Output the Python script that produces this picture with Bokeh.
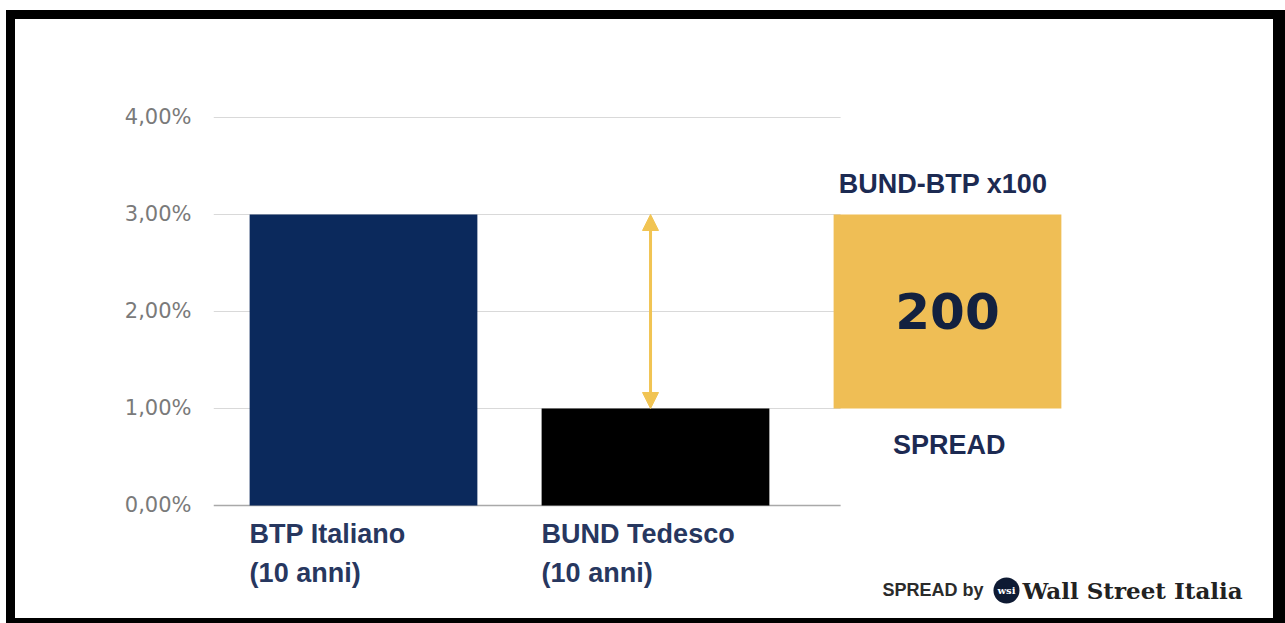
from bokeh.plotting import figure
from bokeh.models import Range1d, FixedTicker, Arrow, NormalHead
from bokeh.core.properties import value
from bokeh.embed import file_html
from bokeh.resources import INLINE

# ---- data -------------------------------------------------------------
bond_names = ["BTP Italiano", "BUND Tedesco"]
bond_terms = ["(10 anni)", "(10 anni)"]
bond_yields = [3.0, 1.0]          # 10y yields, percent
bond_colors = ["#0b295c", "#000000"]
y_ticks = [0, 1, 2, 3, 4]
y_tick_labels = ["0,00%", "1,00%", "2,00%", "3,00%", "4,00%"]
spread_title = "BUND-BTP x100"
spread_caption = "SPREAD"
footer_text = "SPREAD by"
brand_text = "Wall Street Italia"

spread_bp = round((bond_yields[0] - bond_yields[1]) * 100)

# ---- styles -----------------------------------------------------------
NAVY_TEXT = "#1c2a52"
LABEL_TEXT = "#27375f"
GOLD = "#efbe55"
ARROW_GOLD = "#f1c453"
BAR_W = 0.78
SPREAD_X = 2            # slot of the spread box, right of the two bonds

p = figure(
    width=1279, height=613,
    x_range=Range1d(-0.5137, 3.1884),
    y_range=Range1d(-1.3093, 5.0103),
    x_axis_location=None,
    toolbar_location=None,
    output_backend="svg",
    min_border_left=198, min_border_right=0,
    min_border_top=0, min_border_bottom=0,
    background_fill_color="white", border_fill_color="white",
    outline_line_color=None,
    margin=(10, 0, 0, 6),
    styles={"overflow": "hidden",
            "border-style": "solid", "border-color": "#000000",
            "border-width": "9px 12px 5px 9px"},
)
p.grid.visible = False

# y axis: labels only
ax = p.yaxis[0]
ax.ticker = FixedTicker(ticks=y_ticks)
ax.major_label_overrides = {t: lab for t, lab in zip(y_ticks, y_tick_labels)}
ax.axis_line_color = None
ax.major_tick_line_color = None
ax.minor_tick_line_color = None
ax.major_tick_out = 0
ax.major_tick_in = 0
ax.major_label_standoff = 22
ax.major_label_text_font = "DejaVu Sans"
ax.major_label_text_font_size = "21px"
ax.major_label_text_color = "#7a7a7a"

# horizontal gridlines behind the bars
grid_x0, grid_x1 = -0.5137, 1.634
grid_levels = [t for t in y_ticks if t > 0]
p.segment(x0=grid_x0, x1=grid_x1, y0=grid_levels, y1=grid_levels,
          line_color="#d9d9d9", line_width=1)
p.segment(x0=grid_x0, x1=grid_x1, y0=0, y1=0, line_color="#a9a9a9", line_width=1.5)

# bond bars
xs = list(range(len(bond_names)))
p.vbar(x=xs, top=bond_yields, bottom=0, width=BAR_W,
       fill_color=bond_colors, line_color=None)

# category labels under the bars, left aligned with each bar
left_edges = [x - BAR_W / 2 for x in xs]
p.text(x=left_edges, y=-0.29, text=bond_names, text_font=value("Liberation Sans"),
       text_font_style="bold", text_font_size="27px", text_color=LABEL_TEXT,
       text_align="left", text_baseline="middle")
p.text(x=left_edges, y=-0.70, text=bond_terms, text_font=value("Liberation Sans"),
       text_font_style="bold", text_font_size="27px", text_color=LABEL_TEXT,
       text_align="left", text_baseline="middle")

# double arrow spanning the gap between the two yields
head = dict(size=16, fill_color=ARROW_GOLD, line_color=ARROW_GOLD)
p.add_layout(Arrow(start=NormalHead(**head), end=NormalHead(**head),
                   x_start=0.983, y_start=bond_yields[1],
                   x_end=0.983, y_end=bond_yields[0],
                   line_color=ARROW_GOLD, line_width=3))

# spread box from the lower to the higher yield
p.quad(left=SPREAD_X - BAR_W / 2, right=SPREAD_X + BAR_W / 2,
       bottom=bond_yields[1], top=bond_yields[0],
       fill_color=GOLD, line_color=None)
p.text(x=SPREAD_X, y=(bond_yields[0] + bond_yields[1]) / 2, text=[str(spread_bp)],
       text_font=value("DejaVu Sans"), text_font_style="bold", text_font_size="50px",
       text_color="#13213f", text_align="center", text_baseline="middle")
p.text(x=SPREAD_X - 0.015, y=bond_yields[0] + 0.31, text=[spread_title],
       text_font=value("Liberation Sans"), text_font_style="bold", text_font_size="27px",
       text_color=NAVY_TEXT, text_align="center", text_baseline="middle")
p.text(x=SPREAD_X + 0.006, y=bond_yields[1] - 0.38, text=[spread_caption],
       text_font=value("Liberation Sans"), text_font_style="bold", text_font_size="27px",
       text_color=NAVY_TEXT, text_align="center", text_baseline="middle")

# footer credit
p.text(x=1.777, y=-0.876, text=[footer_text], text_font=value("Liberation Sans"),
       text_font_style="bold", text_font_size="18px", text_color="#2b2b2b",
       text_align="left", text_baseline="middle")
p.scatter(x=[2.202], y=[-0.876], size=26, marker="circle",
          fill_color="#0e1a33", line_color=None)
p.text(x=2.202, y=-0.876, text=["wsi"], text_font=value("DejaVu Serif"),
       text_font_style="bold", text_font_size="10px", text_color="white",
       text_align="center", text_baseline="middle")
p.text(x=2.257, y=-0.876, text=[brand_text], text_font=value("DejaVu Serif"),
       text_font_style="bold", text_font_size="23px", text_color="#222222",
       text_align="left", text_baseline="middle")

open("out.html", "w").write(file_html(p, INLINE))
